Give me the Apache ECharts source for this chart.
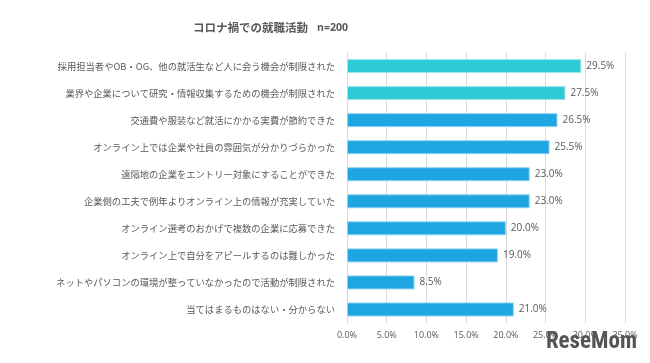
<!DOCTYPE html>
<html><head><meta charset="utf-8">
<script src="https://cdn.jsdelivr.net/npm/echarts@6/dist/echarts.min.js"></script>
<style>html,body{margin:0;padding:0;background:#fff}#c{width:650px;height:363px}</style>
</head><body><div id="c"></div>
<script>
const categories = [
  "採用担当者やOB・OG、他の就活生など人に会う機会が制限された",
  "業界や企業について研究・情報収集するための機会が制限された",
  "交通費や服装など就活にかかる実費が節約できた",
  "オンライン上では企業や社員の雰囲気が分かりづらかった",
  "遠隔地の企業をエントリー対象にすることができた",
  "企業側の工夫で例年よりオンライン上の情報が充実していた",
  "オンライン選考のおかげで複数の企業に応募できた",
  "オンライン上で自分をアピールするのは難しかった",
  "ネットやパソコンの環境が整っていなかったので活動が制限された",
  "当てはまるものはない・分からない"
];
const values = [29.5, 27.5, 26.5, 25.5, 23.0, 23.0, 20.0, 19.0, 8.5, 21.0];
const highlightCount = 2;
const xTicks = [0, 5, 10, 15, 20, 25, 30, 35];

const chart = echarts.init(document.getElementById('c'), null, {renderer: 'canvas'});
chart.setOption({
  animation: false,
  backgroundColor: '#fff',
  title: {
    text: '{a|コロナ禍での就職活動} {b|n=200}',
    left: 188, top: 14,
    textStyle: {
      rich: {
        a: {fontSize: 11.5, fontWeight: 'bold', color: '#595959', fontFamily: 'Noto Sans CJK JP'},
        b: {fontSize: 10.5, fontWeight: 'bold', color: '#595959', fontFamily: 'Open Sans', padding: [0, 0, 0, 4]}
      }
    }
  },
  grid: {left: 347, right: 25, top: 52.5, bottom: 40, containLabel: false},
  xAxis: {
    type: 'value', min: xTicks[0], max: xTicks[xTicks.length - 1], interval: 5,
    axisLine: {show: false}, axisTick: {show: false},
    splitLine: {lineStyle: {color: '#d9d9d9', width: 1}},
    axisLabel: {formatter: v => v.toFixed(1) + '%', color: '#595959', fontSize: 9, fontFamily: 'Open Sans', margin: 8}
  },
  yAxis: {
    type: 'category', inverse: true, data: categories,
    axisLine: {show: true, lineStyle: {color: '#d9d9d9'}}, axisTick: {show: false},
    axisLabel: {color: '#595959', fontSize: 9.3, fontFamily: 'Noto Sans CJK JP', margin: 12}
  },
  series: [{
    type: 'bar', barWidth: 14,
    data: values.map((v, i) => ({
      value: v,
      itemStyle: {color: i < highlightCount ? '#2ECBD6' : '#1DA6E1', borderColor: i < highlightCount ? '#9fe6ea' : '#8fd3f0', borderWidth: 1}
    })),
    label: {show: true, position: 'right', distance: 5, formatter: p => p.value.toFixed(1) + '%', color: '#595959', fontSize: 10, fontFamily: 'Open Sans'}
  }],
  graphic: [{
    type: 'text', right: 13, bottom: 9,
    style: {text: 'ReseMom', fontSize: 23, fontWeight: 'bold', fill: '#555', fontFamily: 'Roboto Condensed, Liberation Sans Narrow, Roboto'}
  }]
});
</script></body></html>
